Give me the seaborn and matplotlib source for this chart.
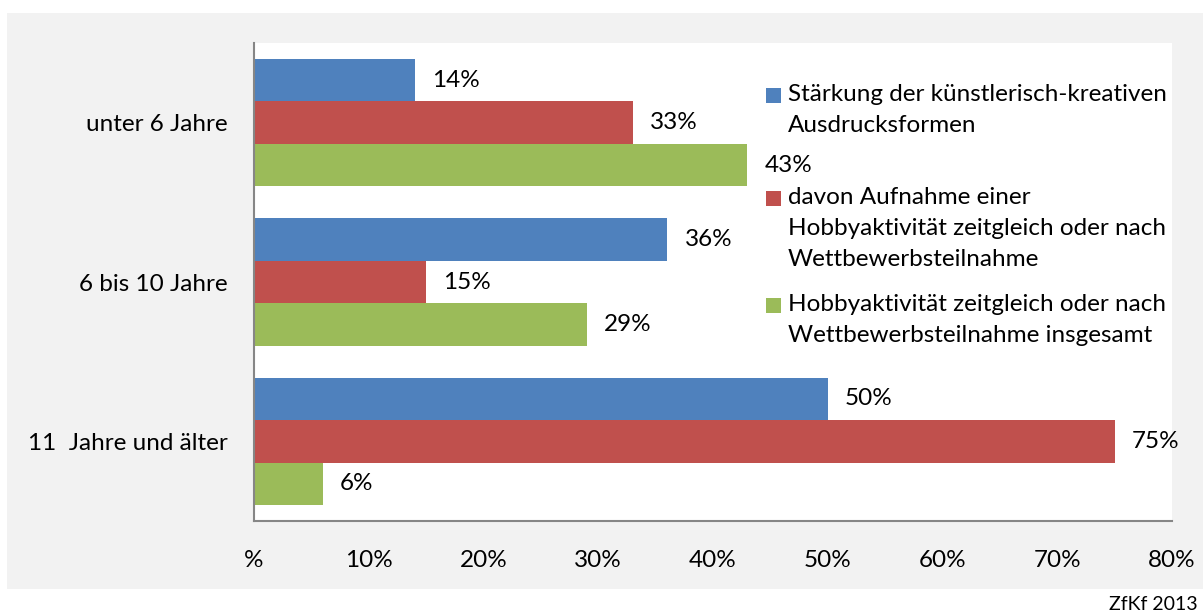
import matplotlib
matplotlib.use("Agg")
import matplotlib.pyplot as plt
from matplotlib.patches import Rectangle
import pandas as pd
import seaborn as sns

# Age groups and the three measured shares (percent)
categories = ["unter 6 Jahre", "6 bis 10 Jahre", "11  Jahre und älter"]
series_names = [
    "Stärkung der künstlerisch-kreativen\nAusdrucksformen",
    "davon Aufnahme einer\nHobbyaktivität zeitgleich oder nach\nWettbewerbsteilnahme",
    "Hobbyaktivität zeitgleich oder nach\nWettbewerbsteilnahme insgesamt",
]
staerkung = [14, 36, 50]
davon_aufnahme = [33, 15, 75]
hobby_insgesamt = [43, 29, 6]
x_ticks = [0, 10, 20, 30, 40, 50, 60, 70, 80]
x_tick_labels = ["%", "10%", "20%", "30%", "40%", "50%", "60%", "70%", "80%"]
source_note = "ZfKf 2013"

colors = ["#4F81BD", "#C0504D", "#9BBB59"]
FS = 17.5

df = pd.DataFrame({
    "Kategorie": categories * 3,
    "Reihe": [series_names[0]] * 3 + [series_names[1]] * 3 + [series_names[2]] * 3,
    "Wert": staerkung + davon_aufnahme + hobby_insgesamt,
})

sns.set_theme(style="white")
plt.rcParams["font.family"] = ["Lato", "DejaVu Sans"]

W, H = 1203, 614
fig = plt.figure(figsize=(W / 100, H / 100), dpi=100, facecolor="white")

# light grey chart panel behind everything
fig.patches.append(Rectangle((7 / W, 1 - 589 / H), 1 - 7 / W, (589 - 13) / H,
                             transform=fig.transFigure, facecolor="#F2F2F2",
                             edgecolor="none", zorder=-10))

ax = fig.add_axes([254 / W, 1 - 521 / H, (1172 - 254) / W, (521 - 43) / H])
ax.set_facecolor("white")
ax.set_zorder(1)

sns.barplot(data=df, y="Kategorie", x="Wert", hue="Reihe", order=categories,
            hue_order=series_names, palette=colors, orient="h", width=0.8,
            saturation=1, legend=False, linewidth=0, ax=ax)

for cont in ax.containers:
    ax.bar_label(cont, fmt="%g%%", padding=12.5, fontsize=FS, color="black",
                 clip_on=False)

ax.set_xlim(0, 80)
ax.set_xticks(x_ticks)
ax.set_xticklabels(x_tick_labels, fontsize=FS)
ax.tick_params(axis="x", length=0, pad=21, colors="black")
ax.tick_params(axis="y", length=0, pad=19, labelsize=FS, colors="black")
ax.set_xlabel("")
ax.set_ylabel("")
for side in ["top", "right"]:
    ax.spines[side].set_visible(False)
for side in ["left", "bottom"]:
    ax.spines[side].set_color("#868686")
    ax.spines[side].set_linewidth(1.5)

# legend drawn inside the plot area, each square aligned to its first text line
legend_rows = [95, 198, 305]
for name, col, ypx in zip(series_names, colors, legend_rows):
    fig.patches.append(Rectangle((766 / W, 1 - (ypx + 8) / H), 15 / W, 15 / H,
                                 transform=fig.transFigure, facecolor=col,
                                 edgecolor="none", zorder=5))
    fig.text(788 / W, 1 - (ypx - 11) / H, name, fontsize=FS, va="top",
             ha="left", linespacing=1.6, color="black", zorder=5)

fig.text(1198 / W, 1 - 604 / H, source_note, fontsize=14, va="center",
         ha="right", color="black")

fig.savefig("out.png", dpi=100)
